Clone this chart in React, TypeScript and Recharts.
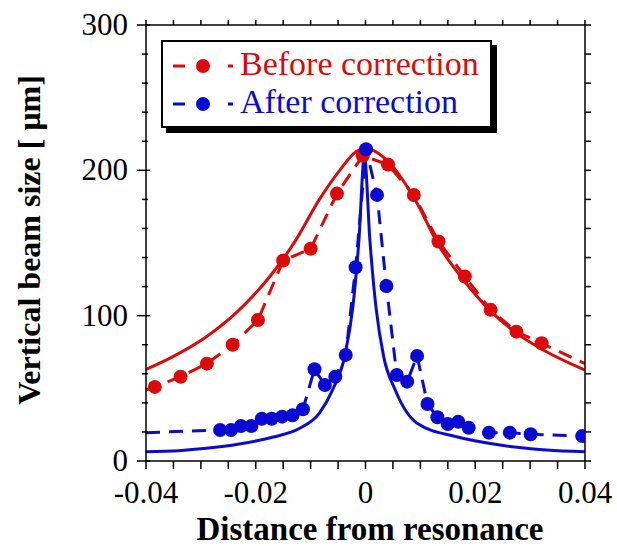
import { ComposedChart, Line, Scatter, XAxis, YAxis, Legend } from 'recharts'

const RED = '#dc0a0a'
const BLUE = '#0a0ad2'
const FONT = "'Liberation Serif', 'Times New Roman', serif"

// measured beam size, before correction
const beforeX = [-0.0384, -0.0337, -0.0289, -0.0242, -0.0196, -0.015, -0.01, -0.0052, -0.0005, 0.0041, 0.0088, 0.0133, 0.0181, 0.0228, 0.0275, 0.0321]
const beforeY = [51, 58, 67, 80, 97, 138, 146, 184, 210, 204, 183, 151, 127, 104, 89, 81]

// measured beam size, after correction
const afterX = [-0.0265, -0.0245, -0.0227, -0.0208, -0.0189, -0.0171, -0.0152, -0.0133, -0.0114, -0.0093, -0.0074, -0.0055, -0.0036, -0.0018, 0.0001, 0.0021, 0.0038, 0.0057, 0.0076, 0.0094, 0.0113, 0.0131, 0.015, 0.0169, 0.0188, 0.0225, 0.0263, 0.0301, 0.0395]
const afterY = [21.3, 21.3, 24.1, 24.1, 29.1, 29.1, 30.5, 31.4, 35.6, 63.1, 52.3, 58, 73, 133.3, 214.5, 183.1, 120.4, 59.2, 54.6, 72.3, 39.2, 30.1, 25.5, 27, 22.9, 19.5, 19.5, 18.4, 17.2]

// dashed guides run on past the markers to the frame
const beforeLeftEnd = { x: -0.04, y: 49 }
const beforeRightEnd = { x: 0.04, y: 67 }
const afterLeftEnd = { x: -0.04, y: 19.5 }

// solid curves (calculated)
const beforeCalcX = [-0.04, -0.035, -0.029, -0.023, -0.017, -0.0127, -0.0084, -0.0047, -0.0017, 0, 0.0044, 0.0087, 0.0135, 0.0184, 0.0226, 0.0275, 0.0324, 0.04]
const beforeCalcY = [63, 72, 85.5, 104, 129, 152, 180, 200, 213, 215, 205, 182, 147.5, 122, 104, 88, 76.4, 62.6]
const afterCalcX = [-0.04, -0.034, -0.029, -0.023, -0.017, -0.012, -0.0084, -0.006, -0.0038, -0.0023, -0.0012, -0.0002, 0.0008, 0.0019, 0.0033, 0.0054, 0.0094, 0.0166, 0.0245, 0.033, 0.04]
const afterCalcY = [6.4, 7.1, 8.7, 11.7, 16.3, 22.5, 33, 49, 72, 106, 152, 210, 152, 106, 72, 49, 26, 16.7, 11, 7.6, 6.4]

const xTicks = [-0.04, -0.035, -0.03, -0.025, -0.02, -0.015, -0.01, -0.005, 0, 0.005, 0.01, 0.015, 0.02, 0.025, 0.03, 0.035, 0.04]
const xLabels = [-0.04, -0.02, 0, 0.02, 0.04]
const yTicks = [0, 20, 40, 60, 80, 100, 120, 140, 160, 180, 200, 220, 240, 260, 280, 300]
const yLabels = [0, 100, 200, 300]

const legendItems = [
  { name: 'Before correction', color: RED },
  { name: 'After correction', color: BLUE },
]

const zip = (xs: number[], ys: number[]) => xs.map((x, i) => ({ x, y: ys[i] }))

const beforePts = zip(beforeX, beforeY)
const afterPts = zip(afterX, afterY)
const beforeDash = [beforeLeftEnd, ...beforePts, beforeRightEnd]
const afterDash = [afterLeftEnd, ...afterPts]
const beforeCalc = zip(beforeCalcX, beforeCalcY)
const afterCalc = zip(afterCalcX, afterCalcY)

const isLabelX = (v: number) => xLabels.some((l) => Math.abs(l - v) < 1e-9)
const fmtX = (v: number) => (Math.abs(v) < 1e-9 ? '0' : v.toFixed(2))

const BottomTick = (p: any) => {
  const v = p.payload.value
  return (
    <g>
      <line x1={p.x} x2={p.x} y1={p.y} y2={p.y + 8} stroke="#000" strokeWidth={1.5} />
      {isLabelX(v) && (
        <text x={p.x} y={p.y + 42} textAnchor="middle" fontSize={31} fontFamily={FONT} fill="#000">
          {fmtX(v)}
        </text>
      )}
    </g>
  )
}

const LeftTick = (p: any) => {
  const v = p.payload.value
  const major = yLabels.includes(v)
  return (
    <g>
      <line x1={p.x - (major ? 9 : 4)} x2={p.x + (major ? 4 : 2)} y1={p.y} y2={p.y} stroke="#000" strokeWidth={1.5} />
      {major && (
        <text x={p.x - 18} y={p.y + 10} textAnchor="end" fontSize={31} fontFamily={FONT} fill="#000">
          {v}
        </text>
      )}
    </g>
  )
}

const TopTick = (p: any) => <line x1={p.x} x2={p.x} y1={p.y} y2={p.y - 5} stroke="#000" strokeWidth={1.5} />
const RightTick = (p: any) => <line x1={p.x} x2={p.x + 6} y1={p.y} y2={p.y} stroke="#000" strokeWidth={1.5} />

const dot = (color: string) => (p: any) => <circle cx={p.cx} cy={p.cy} r={7} fill={color} />

const LegendBox = () => (
  <div style={{ width: 327, height: 84, border: '2px solid #000', boxShadow: '5px 5px 0 #000', background: '#fff' }}>
    <svg width={327} height={84} style={{ display: 'block' }}>
      {legendItems.map((e, i) => {
        const cy = 24 + i * 38
        return (
          <g key={e.name}>
            <line x1={10} x2={22} y1={cy} y2={cy} stroke={e.color} strokeWidth={3} />
            <circle cx={40} cy={cy} r={7} fill={e.color} />
            <line x1={65} x2={70} y1={cy} y2={cy} stroke={e.color} strokeWidth={3} />
            <text x={77} y={cy + 9} fontSize={34} fontFamily={FONT} fill={e.color}>
              {e.name}
            </text>
          </g>
        )
      })}
    </svg>
  </div>
)

const axisLine = { stroke: '#000', strokeWidth: 1.5 }

export default function App() {
  return (
    <div style={{ position: 'absolute', left: 0, top: 0 }}>
      <ComposedChart width={617} height={546} margin={{ top: 20, right: 27, bottom: 45, left: 86 }}>
        <XAxis xAxisId="b" dataKey="x" type="number" domain={[-0.04, 0.04]} allowDataOverflow ticks={xTicks} interval={0}
          height={40} tickSize={0} tickMargin={0} tickLine={false} tick={<BottomTick />} axisLine={axisLine} />
        <XAxis xAxisId="t" orientation="top" dataKey="x" type="number" domain={[-0.04, 0.04]} allowDataOverflow ticks={xTicks} interval={0}
          height={5} tickSize={0} tickMargin={0} tickLine={false} tick={<TopTick />} axisLine={axisLine} />
        <YAxis yAxisId="l" dataKey="y" type="number" domain={[0, 300]} allowDataOverflow ticks={yTicks} interval={0}
          width={60} tickSize={0} tickMargin={0} tickLine={false} tick={<LeftTick />} axisLine={axisLine} />
        <YAxis yAxisId="r" orientation="right" dataKey="y" type="number" domain={[0, 300]} allowDataOverflow ticks={yTicks} interval={0}
          width={5} tickSize={0} tickMargin={0} tickLine={false} tick={<RightTick />} axisLine={axisLine} />

        <Line xAxisId="b" yAxisId="l" data={beforeCalc} dataKey="y" type="monotone" stroke={RED} strokeWidth={3}
          dot={false} legendType="none" isAnimationActive={false} />
        <Line xAxisId="b" yAxisId="l" data={beforeDash} dataKey="y" type="linear" stroke={RED} strokeWidth={3}
          strokeDasharray="14 9" dot={false} legendType="none" isAnimationActive={false} />
        <Scatter xAxisId="b" yAxisId="l" name="Before correction" data={beforePts} fill={RED} shape={dot(RED)} isAnimationActive={false} />

        <Line xAxisId="b" yAxisId="l" data={afterCalc} dataKey="y" type="monotone" stroke={BLUE} strokeWidth={3}
          dot={false} legendType="none" isAnimationActive={false} />
        <Line xAxisId="b" yAxisId="l" data={afterDash} dataKey="y" type="linear" stroke={BLUE} strokeWidth={3}
          strokeDasharray="14 9" dot={false} legendType="none" isAnimationActive={false} />
        <Scatter xAxisId="b" yAxisId="l" name="After correction" data={afterPts} fill={BLUE} shape={dot(BLUE)} isAnimationActive={false} />

        <Legend layout="horizontal" align="center" verticalAlign="middle" content={<LegendBox />}
          wrapperStyle={{ left: 161, top: 40, width: 331, height: 88 }} />

        <text x={370} y={540} textAnchor="middle" fontSize={33} fontWeight="bold" fontFamily={FONT} fill="#000">
          Distance from resonance
        </text>
        <text x={40} y={240} transform="rotate(-90 40 240)" textAnchor="middle" fontSize={32} fontWeight="bold" fontFamily={FONT} fill="#000">
          Vertical beam size [ μm]
        </text>
      </ComposedChart>
    </div>
  )
}
